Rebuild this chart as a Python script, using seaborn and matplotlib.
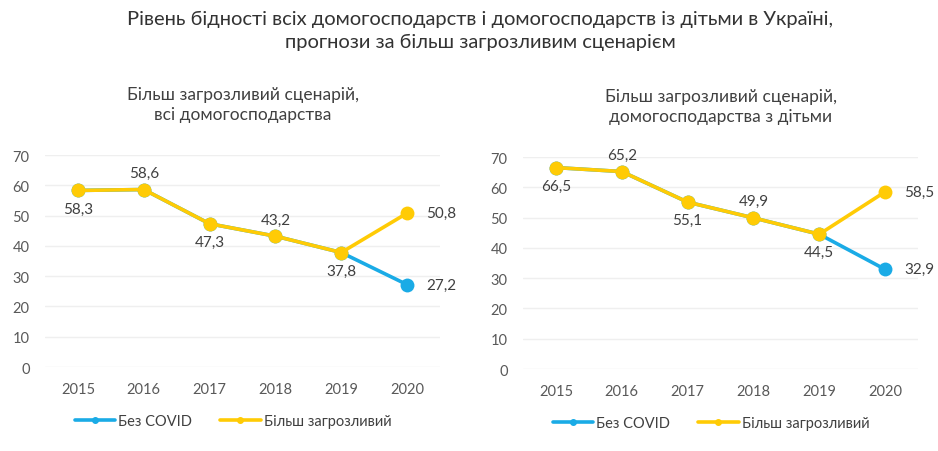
import matplotlib
matplotlib.use("Agg")
import matplotlib.pyplot as plt
import seaborn as sns
import pandas as pd

years = [2015, 2016, 2017, 2018, 2019, 2020]
# all households
all_no_covid = [58.3, 58.6, 47.3, 43.2, 37.8, 27.2]
all_worse = [58.3, 58.6, 47.3, 43.2, 37.8, 50.8]
# households with children
kids_no_covid = [66.5, 65.2, 55.1, 49.9, 44.5, 32.9]
kids_worse = [66.5, 65.2, 55.1, 49.9, 44.5, 58.5]

series_names = ["Без COVID", "Більш загрозливий"]
colors = {"Без COVID": "#1AABE6", "Більш загрозливий": "#FFCB05"}

title = "Рівень бідності всіх домогосподарств і домогосподарств із дітьми в Україні,\nпрогнози за більш загрозливим сценарієм"
sub_left = "Більш загрозливий сценарій,\nвсі домогосподарства"
sub_right = "Більш загрозливий сценарій,\nдомогосподарства з дітьми"

# label placement: below / above alternately, last point to the right
label_pos = ["below", "above", "below", "above", "below", "right"]

sns.set_theme(style="white")
plt.rcParams["font.family"] = ["Lato", "Open Sans", "DejaVu Sans"]

txt = "#404040"
tick_c = "#595959"

fig = plt.figure(figsize=(9.38, 4.52), dpi=100)
ax1 = fig.add_axes([45 / 938, 1 - 368 / 452, 395 / 938, 212 / 452])
ax2 = fig.add_axes([523 / 938, 1 - 370 / 452, 395 / 938, 212 / 452])


def draw(ax, no_covid, worse, subtitle):
    df = pd.DataFrame({
        "year": years * 2,
        "value": no_covid + worse,
        "series": [series_names[0]] * len(years) + [series_names[1]] * len(years),
    })
    sns.lineplot(data=df, x="year", y="value", hue="series", hue_order=series_names,
                 palette=colors, marker="o", markersize=10, markeredgewidth=0,
                 linewidth=2.6, ax=ax, legend=False)
    ax.set_xlim(2014.5, 2020.5)
    ax.set_ylim(0, 70)
    ax.set_yticks(range(0, 71, 10))
    ax.set_xticks(years)
    ax.set_xlabel("")
    ax.set_ylabel("")
    ax.grid(axis="y", color="#EFEFEF", linewidth=1)
    ax.set_axisbelow(True)
    sns.despine(ax=ax, left=True, bottom=True)
    ax.tick_params(axis="both", length=0, labelsize=10.5, labelcolor=tick_c)
    ax.tick_params(axis="y", pad=11)
    ax.tick_params(axis="x", pad=11)

    for i, (y, v) in enumerate(zip(years, worse)):
        pos = label_pos[i]
        if pos == "below":
            off, ha, va = (0, -8), "center", "top"
        elif pos == "above":
            off, ha, va = (0, 7), "center", "bottom"
        else:
            off, ha, va = (14, 0), "left", "center"
        ax.annotate(f"{v:.1f}".replace(".", ","), (y, v), xytext=off,
                    textcoords="offset points", ha=ha, va=va,
                    fontsize=11, color=txt)
    v = no_covid[-1]
    ax.annotate(f"{v:.1f}".replace(".", ","), (years[-1], v), xytext=(14, 0),
                textcoords="offset points", ha="left", va="center",
                fontsize=11, color=txt)

    ax.set_title(subtitle, fontsize=12.5, color=txt, pad=26, linespacing=1.3)

    handles = [plt.Line2D([], [], color=colors[n], linewidth=2.6, marker="o",
                          markersize=4) for n in series_names]
    ax.legend(handles, series_names, loc="upper center", bbox_to_anchor=(0.476, -0.16),
              ncol=2, frameon=False, fontsize=10.5, handlelength=2.8,
              handletextpad=0.2, columnspacing=1.9, labelcolor=txt)


draw(ax1, all_no_covid, all_worse, sub_left)
draw(ax2, kids_no_covid, kids_worse, sub_right)

fig.text(480 / 938, 1 - 31 / 452, title, ha="center", va="center",
         fontsize=14.5, color="#333333", linespacing=1.4)

fig.savefig("out.png", dpi=100)
